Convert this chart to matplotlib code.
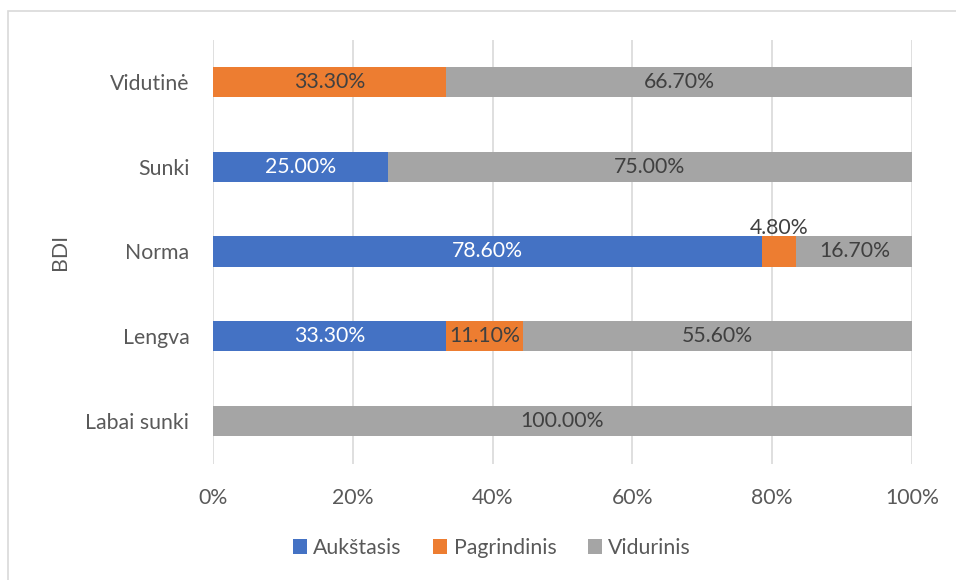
import matplotlib.pyplot as plt
import numpy as np
from matplotlib.patches import Rectangle

plt.rcParams['font.family'] = ['Lato', 'DejaVu Sans']

# BDI kategorijos (iš apačios į viršų)
kategorijos = ['Labai sunki', 'Lengva', 'Norma', 'Sunki', 'Vidutinė']
# išsilavinimas, %
aukstasis = [0.0, 33.3, 78.6, 25.0, 0.0]
pagrindinis = [0.0, 11.1, 4.8, 0.0, 33.3]
vidurinis = [100.0, 55.6, 16.7, 75.0, 66.7]
serijos = ['Aukštasis', 'Pagrindinis', 'Vidurinis']
spalvos = ['#4472C4', '#ED7D31', '#A5A5A5']
teksto_spalvos = ['white', '#404040', '#404040']
fs = 15.3

fig = plt.figure(figsize=(9.56, 5.8), dpi=100)
ax = fig.add_axes([213 / 956, 1 - 463.5 / 580, 699 / 956, 424 / 580])

# rėmelis aplink diagramą
fig.patches.append(Rectangle((8 / 956, -0.1), 1.2, 1 - 10.5 / 580 + 0.1,
                             transform=fig.transFigure, fill=False,
                             edgecolor='#D9D9D9', linewidth=1.2, zorder=0))

y = np.arange(len(kategorijos))
kaire = np.zeros(len(kategorijos))
for vardas, reiksmes, sp, ts in zip(serijos, [aukstasis, pagrindinis, vidurinis], spalvos, teksto_spalvos):
    r = np.array(reiksmes)
    ax.barh(y, r, left=kaire, height=0.354, color=sp, label=vardas, zorder=3)
    for i, v in enumerate(r):
        if v <= 0:
            continue
        xc = kaire[i] + v / 2
        if v < 8:
            # per siauras segmentas - etiketė virš stulpelio
            ax.text(xc, y[i] + 0.16, f'{v:.2f}%', ha='center', va='bottom',
                    color='#404040', fontsize=fs, zorder=4)
        else:
            ax.text(xc, y[i], f'{v:.2f}%', ha='center', va='center',
                    color=ts, fontsize=fs, zorder=4)
    kaire += r

ax.set_xlim(0, 100)
ax.set_ylim(-0.5, len(kategorijos) - 0.5)
ax.set_xticks(np.arange(0, 101, 20))
ax.set_xticklabels([f'{t}%' for t in range(0, 101, 20)])
ax.set_yticks(y)
ax.set_yticklabels(kategorijos)
ax.tick_params(axis='both', length=0, labelsize=fs, colors='#595959')
ax.tick_params(axis='x', pad=18)
ax.tick_params(axis='y', pad=17)
ax.grid(axis='x', color='#D9D9D9', linewidth=1.2, zorder=0)
for s in ax.spines.values():
    s.set_visible(False)

fig.text(60 / 956, 1 - 252 / 580, 'BDI', rotation=90, ha='center', va='center',
         fontsize=fs, color='#595959')

fig.legend(loc='center', bbox_to_anchor=(492 / 956, 1 - 548 / 580), ncol=3,
           frameon=False, fontsize=fs, labelcolor='#595959', handlelength=0.65,
           handleheight=0.65, handletextpad=0.3, columnspacing=1.5)

fig.savefig('out.png', dpi=100)
